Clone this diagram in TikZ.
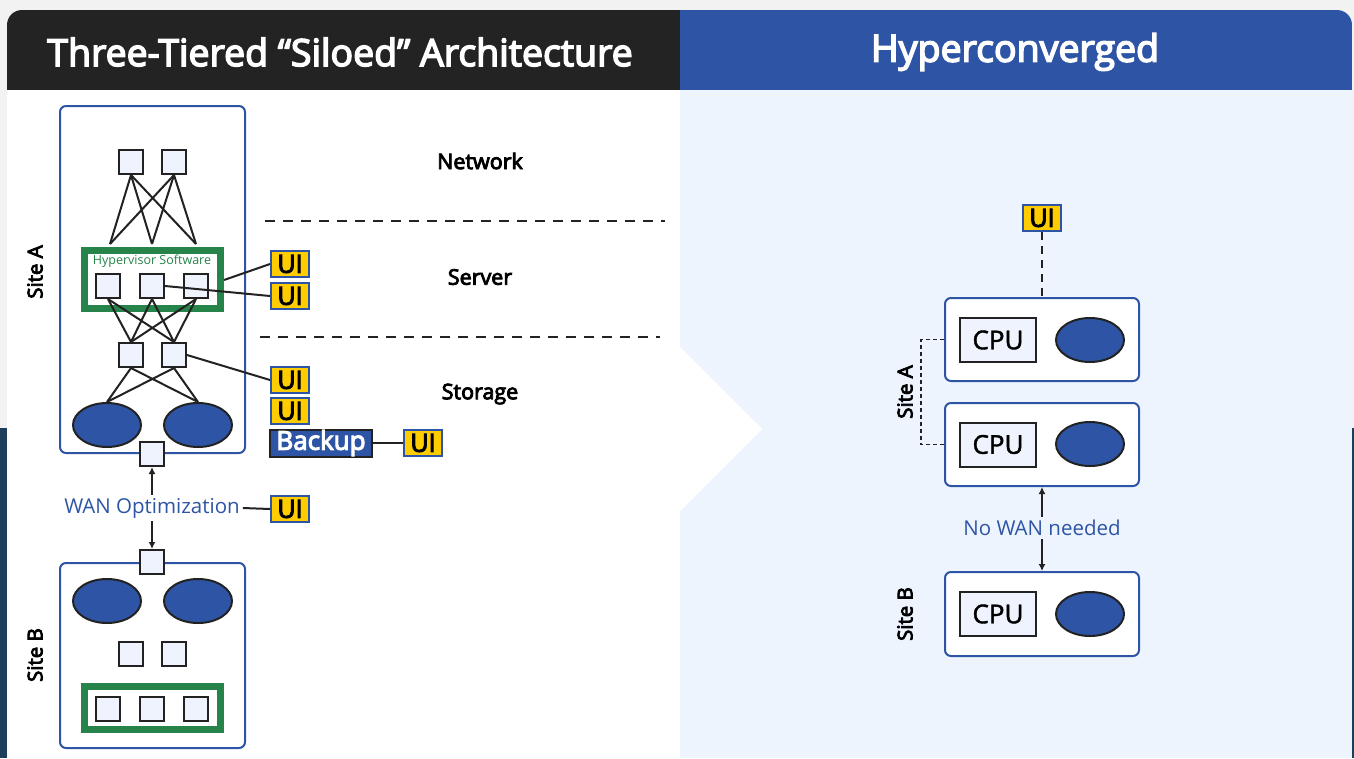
\documentclass[tikz,border=0pt]{standalone}
\usepackage{fontspec}
\setmainfont{Open Sans}
\newfontfamily\sbf{Open Sans}[FakeBold=4]
\newfontfamily\mdf{Open Sans}[FakeBold=1.5]
\usetikzlibrary{shapes.geometric,arrows.meta}
\definecolor{navy}{HTML}{1B3F5D}
\definecolor{hdrdark}{HTML}{232323}
\definecolor{hdrblue}{HTML}{2E55A5}
\definecolor{paneblue}{HTML}{EDF4FE}
\definecolor{sqfill}{HTML}{EEF3FD}
\definecolor{lineblk}{HTML}{222222}
\definecolor{uiyel}{HTML}{FFCC00}
\definecolor{grn}{HTML}{26844A}
\definecolor{outbg}{HTML}{F2F2F2}
\tikzset{
  sq/.style={rectangle, draw=lineblk, line width=2pt, fill=sqfill, minimum size=24pt, inner sep=0pt},
  ell/.style={ellipse, draw=lineblk, line width=2pt, fill=hdrblue, minimum width=68pt, minimum height=44pt, inner sep=0pt},
  ui/.style={rectangle, draw=hdrblue, line width=2pt, fill=uiyel, minimum width=38pt, minimum height=26pt, inner sep=0pt, font=\sbf\fontsize{25}{25}\selectfont},
  sitebox/.style={rectangle, rounded corners=6pt, draw=hdrblue, line width=2pt, fill=white, inner sep=0pt},
  grnbox/.style={rectangle, draw=grn, line width=7pt, fill=white, inner sep=0pt},
  link/.style={line width=2pt, draw=lineblk},
  sitelbl/.style={rotate=90, font=\sbf\fontsize{20.5}{20.5}\selectfont},
  tierlbl/.style={font=\sbf\fontsize{21.5}{21.5}\selectfont},
  cpubox/.style={rectangle, draw=lineblk, line width=2pt, fill=sqfill, minimum width=76pt, minimum height=44pt, inner sep=0pt, font=\mdf\fontsize{26}{26}\selectfont},
  tierline/.style={line width=2pt, draw=lineblk, dash pattern=on 10pt off 8pt},
  arr/.style={line width=2pt, draw=lineblk, {Latex[length=7pt,width=7pt]}-{Latex[length=7pt,width=7pt]}},
  wanlbl/.style={text=hdrblue, font=\fontsize{20.5}{20.5}\selectfont, inner sep=3pt},
  hdr/.style={text=white, font=\sbf\fontsize{37.5}{37.5}\selectfont},
}
\begin{document}
\begin{tikzpicture}[x=1pt,y=-1pt]
\useasboundingbox (0,0) rectangle (1354,758);
% outer background
\fill[outbg] (0,0) rectangle (1354,758);
\fill[navy] (0,428) rectangle (7,758);
\fill[navy] (1351,428) rectangle (1354,758);
% card
\begin{scope}
\clip[rounded corners=15pt] (7,10) rectangle (1352,790);
\fill[hdrdark] (7,10) rectangle (680,90);
\fill[hdrblue] (680,10) rectangle (1352,90);
\fill[white] (7,90) rectangle (680,758);
\fill[paneblue] (680,90) rectangle (1352,758);
\end{scope}
\fill[white] (680,347) -- (762,429) -- (680,511) -- cycle;
% headers
\node[hdr] (h1) at (340,52) {Three-Tiered “Siloed” Architecture};
\node[hdr] (h2) at (1015,52) {Hyperconverged};

% ---------- Left: Site A ----------
\node[sitebox, minimum width=185pt, minimum height=347pt] (siteA) at (152.5,279.5) {};
\node[sitelbl] (siteAlbl) at (35,272) {Site A};
\node[sq] (n1) at (131,162) {};
\node[sq] (n2) at (174,162) {};
\node[grnbox, minimum width=136pt, minimum height=58pt] (hyp) at (152.5,279.5) {};
\node[text=grn, font=\fontsize{12.5}{12.5}\selectfont] (hyplbl) at (152,261) {Hypervisor Software};
\node[sq] (s1) at (108,286) {};
\node[sq] (s2) at (152,286) {};
\node[sq] (s3) at (196,286) {};
\coordinate (t1) at (110,244);
\coordinate (t2) at (152,244);
\coordinate (t3) at (196,244);
\foreach \a in {n1,n2}{
  \foreach \b in {t1,t2,t3}{
    \draw[link] (\a.south) -- (\b);
  }
}
\node[sq] (m1) at (131,355) {};
\node[sq] (m2) at (174,355) {};
\foreach \a in {s1,s2,s3}{
  \foreach \b in {m1,m2}{
    \draw[link] (\a.south) -- (\b.north);
  }
}
\node[ell] (e1) at (107,425) {};
\node[ell] (e2) at (198,425) {};
\foreach \a in {m1,m2}{
  \draw[link] (\a.south) -- (e1.north);
  \draw[link] (\a.south) -- (e2.north);
}
\node[sq] (wA) at (152,454) {};

% tier labels and separators
\node[tierlbl] (net) at (480,161) {Network};
\node[tierlbl] (srv) at (480,277) {Server};
\node[tierlbl] (sto) at (480,394) {Storage};
\coordinate (d1a) at (265,221);
\coordinate (d1b) at (665,221);
\coordinate (d2a) at (260,337);
\coordinate (d2b) at (660,337);
\draw[tierline] (d1a) -- (d1b);
\draw[tierline] (d2a) -- (d2b);

% UI labels
\node[ui] (ui1) at (290,264) {UI};
\node[ui] (ui2) at (290,296) {UI};
\node[ui] (ui3) at (290,380) {UI};
\node[ui] (ui4) at (290,411) {UI};
\node[rectangle, draw=lineblk, line width=2pt, fill=hdrblue, text=white, minimum width=102pt, minimum height=27pt, inner sep=0pt, font=\sbf\fontsize{26}{26}\selectfont] (backup) at (321,443) {Backup};
\node[ui] (ui5) at (423,443) {UI};
\draw[link] (hyp.east |- 0,280) -- (ui1.west);
\draw[link] (s2.east) -- (ui2.west);
\draw[link] (m2.east) -- (ui3.west);
\draw[link] (backup.east) -- (ui5.west);

% WAN
\node[sq] (wB) at (152,562) {};
\draw[arr] (wA.south) -- (wB.north);
\node[wanlbl, fill=white] (wan) at (152,508) {WAN Optimization};
\node[ui] (ui6) at (290,509) {UI};
\draw[link] (wan.east) -- (ui6.west);

% ---------- Left: Site B ----------
\node[sitebox, minimum width=185pt, minimum height=185pt] (siteB) at (152.5,655.5) {};
\node[sq] (wB2) at (152,562) {};
\node[sitelbl] (siteBlbl) at (35,655) {Site B};
\node[ell] (f1) at (107,601) {};
\node[ell] (f2) at (198,601) {};
\node[sq] (p1) at (131,654) {};
\node[sq] (p2) at (174,654) {};
\node[grnbox, minimum width=136pt, minimum height=43pt] (hypB) at (152.5,708) {};
\node[sq] (q1) at (108,709) {};
\node[sq] (q2) at (152,709) {};
\node[sq] (q3) at (196,709) {};

% ---------- Right ----------
\node[ui] (uiR) at (1042,218) {UI};
\node[sitebox, minimum width=194pt, minimum height=83pt] (b1) at (1042,339.5) {};
\node[sitebox, minimum width=194pt, minimum height=83pt] (b2) at (1042,444.5) {};
\node[sitebox, minimum width=194pt, minimum height=84pt] (b3) at (1042,614) {};
\draw[line width=2pt, draw=lineblk, dash pattern=on 8pt off 6pt] (uiR.south) -- (b1.north);
\node[cpubox] (c1) at (998,340) {CPU};
\node[ell] (r1) at (1090,340) {};
\node[cpubox] (c2) at (998,444.5) {CPU};
\node[ell] (r2) at (1090,444) {};
\node[cpubox] (c3) at (998,614) {CPU};
\node[ell] (r3) at (1090,614) {};
\draw[line width=1.5pt, draw=lineblk, dash pattern=on 4pt off 3pt] (b1.west) -- ++(-23,0) |- (b2.west);
\node[sitelbl] (siteAR) at (905,392) {Site A};
\node[sitelbl] (siteBR) at (905,614) {Site B};
\draw[arr] (b2.south) -- (b3.north);
\node[wanlbl, fill=paneblue] (nowan) at (1042,528) {No WAN needed};
\end{tikzpicture}
\end{document}
